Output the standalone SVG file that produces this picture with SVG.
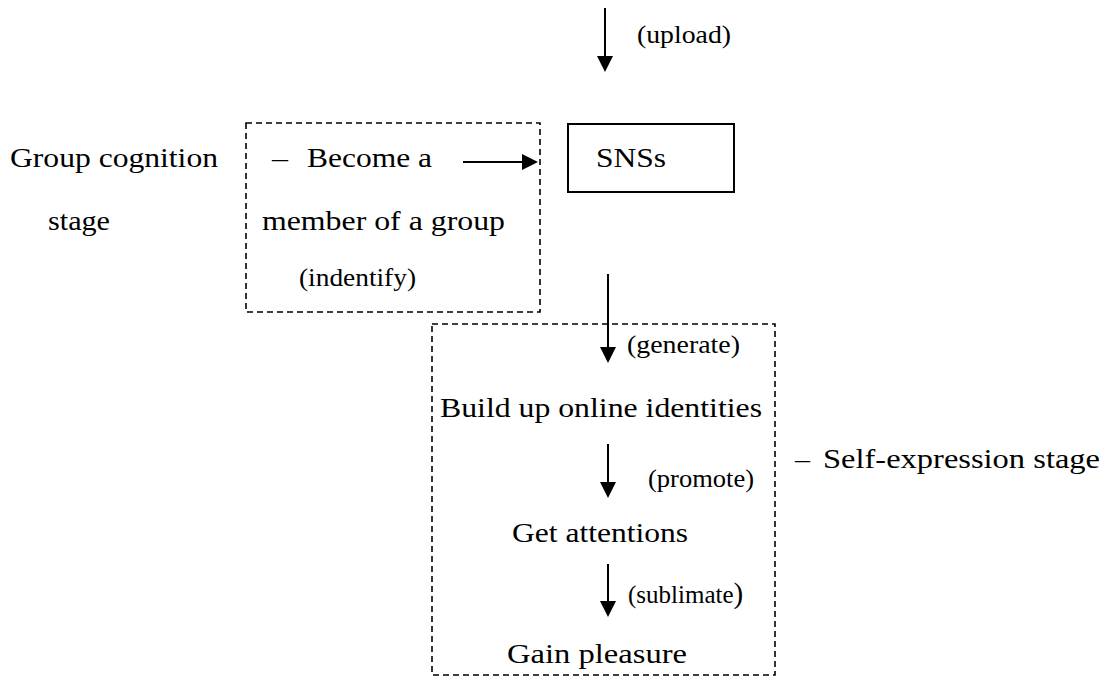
<svg xmlns="http://www.w3.org/2000/svg" width="1106" height="686" viewBox="0 0 1106 686">
  <style>
    .t { font-family: "Liberation Serif", "Times New Roman", serif; fill: #000; }
    .main { font-size: 28px; }
    .small { font-size: 25px; }
    .frame { fill: none; stroke: #000; stroke-width: 1.6; stroke-dasharray: 6 4; }
    .box { fill: #fff; stroke: #000; stroke-width: 2; }
    .edge { stroke: #000; stroke-width: 2; fill: none; }
    .head { fill: #000; }
  </style>

  <rect width="1106" height="686" fill="#fff"/>

  <!-- stage frames -->
  <g id="group-cognition-frame">
    <rect class="frame" x="246" y="123" width="294" height="189"/>
  </g>
  <g id="self-expression-frame">
    <rect class="frame" x="432" y="324" width="343" height="351"/>
  </g>

  <!-- connectors -->
  <g id="connectors">
    <line class="edge" x1="605" y1="8" x2="605" y2="58"/>
    <polygon class="head" points="597,56 613,56 605,72"/>

    <line class="edge" x1="463" y1="162" x2="525" y2="162"/>
    <polygon class="head" points="522,154 522,170 538,162"/>

    <line class="edge" x1="608" y1="274" x2="608" y2="350"/>
    <polygon class="head" points="600,347 616,347 608,363"/>

    <line class="edge" x1="608" y1="444" x2="608" y2="485"/>
    <polygon class="head" points="600,482 616,482 608,498"/>

    <line class="edge" x1="608" y1="564" x2="608" y2="604"/>
    <polygon class="head" points="600,601 616,601 608,617"/>
  </g>

  <!-- edge labels -->
  <g id="edge-labels">
    <text class="t small" x="637" y="43" textLength="94" lengthAdjust="spacingAndGlyphs">(upload)</text>
    <text class="t small" x="299" y="286" textLength="117" lengthAdjust="spacingAndGlyphs">(indentify)</text>
    <text class="t small" x="627" y="353" textLength="113" lengthAdjust="spacingAndGlyphs">(generate)</text>
    <text class="t small" x="648" y="487" textLength="106" lengthAdjust="spacingAndGlyphs">(promote)</text>
    <text class="t small" x="628" y="603">(sublimate<tspan font-size="29">)</tspan></text>
  </g>

  <!-- stage captions -->
  <g id="group-cognition-label">
    <text class="t main" x="10" y="167" textLength="208" lengthAdjust="spacingAndGlyphs">Group cognition</text>
    <text class="t main" x="48" y="230" textLength="62" lengthAdjust="spacingAndGlyphs">stage</text>
  </g>
  <g id="self-expression-label">
    <text class="t main" x="795" y="468" textLength="15" lengthAdjust="spacingAndGlyphs">–</text>
    <text class="t main" x="823" y="468" textLength="277" lengthAdjust="spacingAndGlyphs">Self-expression stage</text>
  </g>

  <!-- nodes -->
  <g id="node-member">
    <text class="t main" x="272" y="167" textLength="16" lengthAdjust="spacingAndGlyphs">–</text>
    <text class="t main" x="307" y="167" textLength="125" lengthAdjust="spacingAndGlyphs">Become a</text>
    <text class="t main" x="262" y="230" textLength="243" lengthAdjust="spacingAndGlyphs">member of a group</text>
  </g>
  <g id="node-sns">
    <rect class="box" x="568" y="124" width="166" height="68"/>
    <text class="t main" x="596" y="167" textLength="70" lengthAdjust="spacingAndGlyphs">SNSs</text>
  </g>
  <g id="node-identities">
    <text class="t main" x="440" y="417" textLength="322" lengthAdjust="spacingAndGlyphs">Build up online identities</text>
  </g>
  <g id="node-attentions">
    <text class="t main" x="512" y="542" textLength="176" lengthAdjust="spacingAndGlyphs">Get attentions</text>
  </g>
  <g id="node-pleasure">
    <text class="t main" x="507" y="663" textLength="180" lengthAdjust="spacingAndGlyphs">Gain pleasure</text>
  </g>
</svg>
